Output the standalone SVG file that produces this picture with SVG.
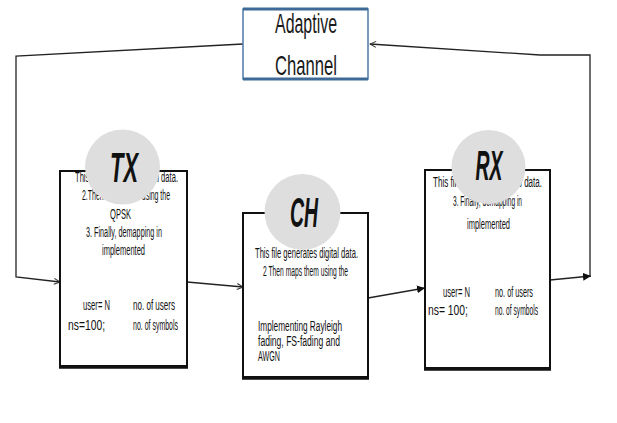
<svg xmlns="http://www.w3.org/2000/svg" width="617" height="423" viewBox="0 0 617 423">
<style>
.box{fill:#fff;stroke:#111;stroke-width:2}
.bot{stroke:#111;stroke-width:3.5}
.circ{fill:#dedede}
.t{font-family:"Liberation Sans",Arial,sans-serif;font-size:14px;fill:#111}
.big{font-family:"Liberation Sans",Arial,sans-serif;font-size:42px;font-style:italic;font-weight:bold;fill:#111}
.ac{font-family:"Liberation Sans",Arial,sans-serif;font-size:28px;fill:#1a1a1a}
.ln{fill:none;stroke:#222;stroke-width:1.3}
</style>
<defs>
<marker id="open" markerWidth="8" markerHeight="8" refX="7" refY="4" orient="auto" markerUnits="userSpaceOnUse">
<path d="M1,1 L7,4 L1,7" fill="none" stroke="#333" stroke-width="1"/>
</marker>
<marker id="fill" markerWidth="9" markerHeight="9" refX="8" refY="4.5" orient="auto" markerUnits="userSpaceOnUse">
<path d="M0,0.5 L8,4.5 L0,8.5 Z" fill="#111"/>
</marker>
</defs>
<g id="connectors">
<path class="ln" d="M243,44 L16,56 L16,277 L60,282" marker-end="url(#open)"/>
<path class="ln" d="M187,282 L243,287" marker-end="url(#open)"/>
<path class="ln" d="M368,298 L425,288" marker-end="url(#fill)"/>
<path class="ln" d="M550,280 L591,276" marker-end="url(#fill)"/>
<path class="ln" d="M590,276 L590,55 L540,55 L370,44" marker-end="url(#open)"/>
</g>
<g id="adaptive">
<rect x="243" y="9" width="125" height="70" fill="#fff" stroke="#4f7aa8" stroke-width="1.5"/>
<line x1="243" y1="9" x2="368" y2="9" stroke="#3f6a98" stroke-width="3"/>
<line x1="243" y1="79" x2="368" y2="79" stroke="#3f6a98" stroke-width="3"/>
<text class="ac" x="306" y="33" text-anchor="middle" textLength="62" lengthAdjust="spacingAndGlyphs">Adaptive</text>
<text class="ac" x="306" y="75" text-anchor="middle" textLength="62" lengthAdjust="spacingAndGlyphs">Channel</text>
</g>
<g id="tx">
<rect class="box" x="60" y="171" width="127" height="195"/>
<line class="bot" x1="59" y1="367" x2="188" y2="367"/>
<text class="t" x="75" y="182" textLength="103" lengthAdjust="spacingAndGlyphs">This file generates digital data.</text>
<text class="t" x="82" y="200" textLength="88" lengthAdjust="spacingAndGlyphs">2.Then maps them using the</text>
<text class="t" x="110" y="219" textLength="21" lengthAdjust="spacingAndGlyphs">QPSK</text>
<text class="t" x="86" y="237" textLength="76" lengthAdjust="spacingAndGlyphs">3. Finally, demapping in</text>
<text class="t" x="102" y="255" textLength="43" lengthAdjust="spacingAndGlyphs">implemented</text>
<text class="t" x="83" y="310" textLength="27" lengthAdjust="spacingAndGlyphs">user= N</text>
<text class="t" x="133" y="310" textLength="42" lengthAdjust="spacingAndGlyphs">no. of users</text>
<text class="t" x="68" y="330" textLength="37" lengthAdjust="spacingAndGlyphs">ns=100;</text>
<text class="t" x="133" y="330" textLength="45" lengthAdjust="spacingAndGlyphs">no. of symbols</text>
<circle class="circ" cx="122.5" cy="167" r="37.5"/>
<text class="big" x="124" y="182" text-anchor="middle" textLength="28" lengthAdjust="spacingAndGlyphs">TX</text>
</g>
<g id="ch">
<rect class="box" x="243" y="213" width="125" height="164"/>
<line class="bot" x1="242" y1="378" x2="369" y2="378"/>
<text class="t" x="255" y="258" textLength="103" lengthAdjust="spacingAndGlyphs">This file generates digital data.</text>
<text class="t" x="263" y="276" textLength="85" lengthAdjust="spacingAndGlyphs">2 Then maps them using the</text>
<text class="t" x="258" y="331" textLength="84" lengthAdjust="spacingAndGlyphs">Implementing Rayleigh</text>
<text class="t" x="258" y="346" textLength="82" lengthAdjust="spacingAndGlyphs">fading, FS-fading and</text>
<text class="t" x="258" y="361" textLength="22" lengthAdjust="spacingAndGlyphs">AWGN</text>
<circle class="circ" cx="302.5" cy="212" r="38"/>
<text class="big" x="304" y="227" text-anchor="middle" textLength="28" lengthAdjust="spacingAndGlyphs">CH</text>
</g>
<g id="rx">
<rect class="box" x="425" y="170" width="125" height="198"/>
<line class="bot" x1="424" y1="369" x2="551" y2="369"/>
<text class="t" x="433" y="187" textLength="109" lengthAdjust="spacingAndGlyphs">This file generates digital data.</text>
<text class="t" x="453" y="206" textLength="69" lengthAdjust="spacingAndGlyphs">3. Finally, demapping in</text>
<text class="t" x="467" y="229" textLength="43" lengthAdjust="spacingAndGlyphs">implemented</text>
<text class="t" x="443" y="297" textLength="27" lengthAdjust="spacingAndGlyphs">user= N</text>
<text class="t" x="495" y="297" textLength="38" lengthAdjust="spacingAndGlyphs">no. of users</text>
<text class="t" x="428" y="315" textLength="40" lengthAdjust="spacingAndGlyphs">ns= 100;</text>
<text class="t" x="495" y="315" textLength="43" lengthAdjust="spacingAndGlyphs">no. of symbols</text>
<circle class="circ" cx="488.5" cy="167" r="37"/>
<text class="big" x="489" y="180" text-anchor="middle" textLength="27" lengthAdjust="spacingAndGlyphs">RX</text>
</g>
</svg>
